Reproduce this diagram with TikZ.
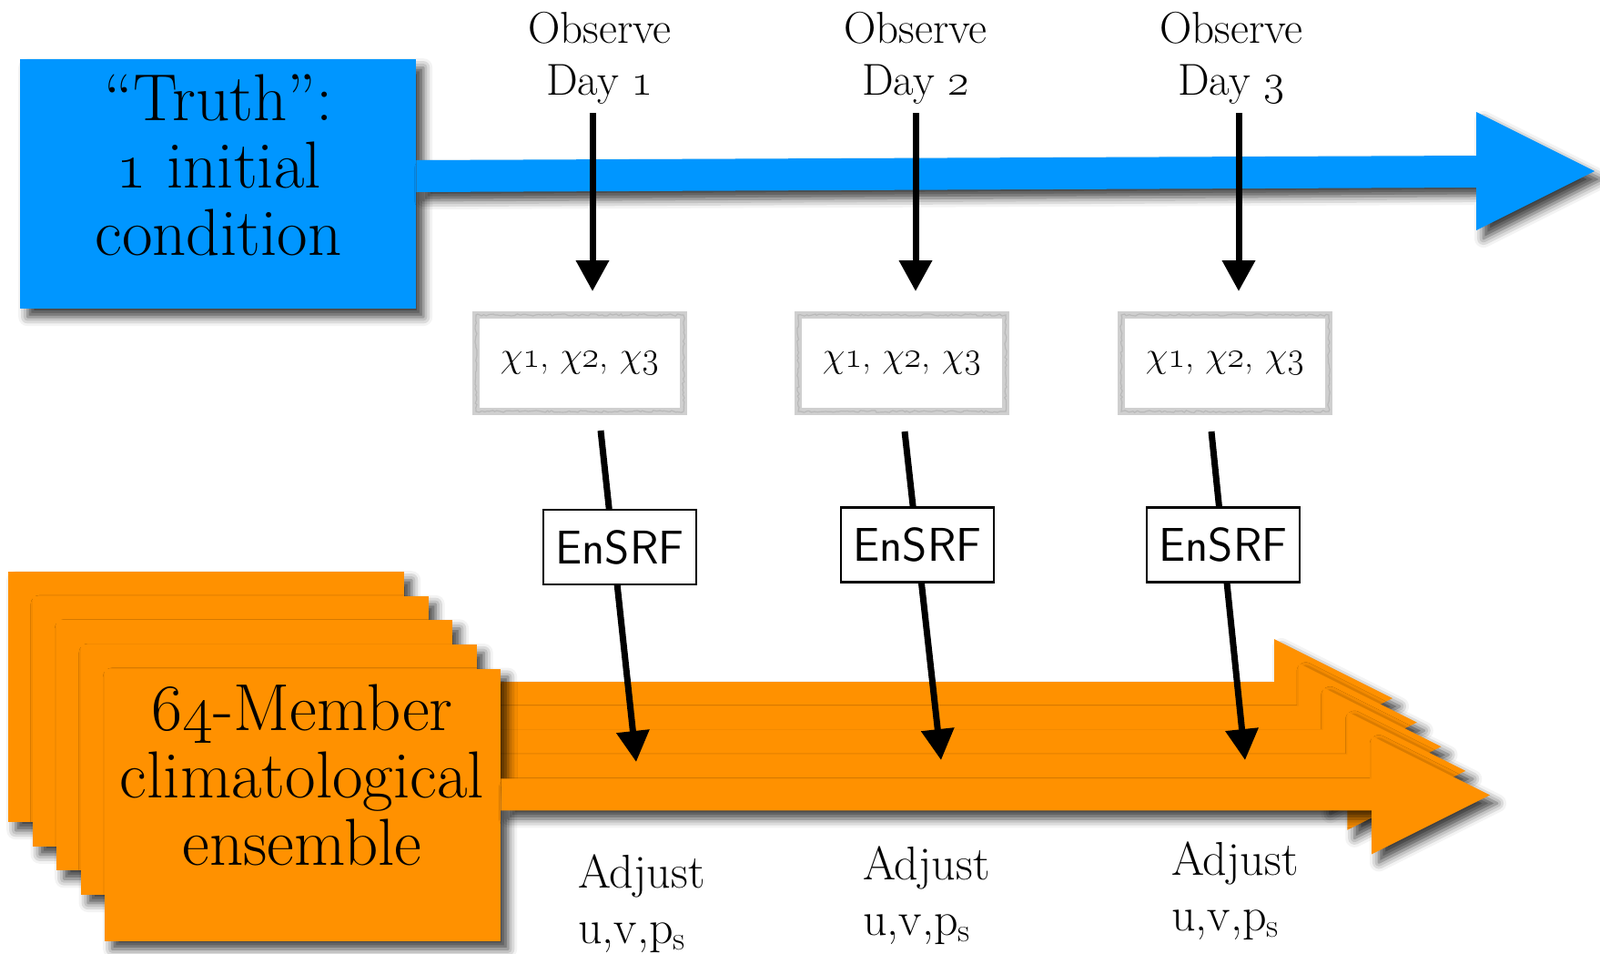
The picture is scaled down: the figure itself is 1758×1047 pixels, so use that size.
\RequirePackage{fix-cm}
\documentclass[tikz,border=0pt]{standalone}
\usetikzlibrary{shadows.blur,arrows.meta,decorations.pathmorphing}
\definecolor{truthblue}{RGB}{0,150,255}
\definecolor{ensorange}{RGB}{255,145,0}
\newcommand\osn[1]{\oldstylenums{#1}}
\newcommand\bigfont{\fontsize{73}{74}\selectfont}
\tikzset{
  shad/.style={blur shadow={shadow xshift=8pt,shadow yshift=-9pt,shadow blur radius=10pt,shadow opacity=75}},
  cardbox/.style={fill=ensorange,shad,inner sep=0pt,anchor=north west},
  truthbox/.style={fill=truthblue,shad,inner sep=0pt,anchor=north west,minimum width=435pt,minimum height=274pt},
  bigtext/.style={align=center,anchor=base,font=\bigfont,inner sep=0pt},
  obslabel/.style={align=center,anchor=base,font=\fontsize{49}{57}\selectfont,inner sep=0pt},
  adjlabel/.style={align=left,anchor=base west,font=\fontsize{52}{61}\selectfont,inner sep=0pt},
  obsarrow/.style={draw=black,-{Triangle[length=34pt,width=35pt,fill=black]},line width=7pt},
  chibox/.style={draw=gray!38,line width=8pt,minimum width=228pt,minimum height=106pt,inner sep=0pt,
     font=\fontsize{40}{44}\selectfont,
     postaction={draw=gray!55,line width=1.2pt,decorate,decoration={random steps,segment length=3pt,amplitude=1.2pt}}},
  ensrfbox/.style={draw,line width=2.5pt,fill=white,minimum width=168pt,minimum height=82pt,inner sep=0pt,
     font=\sffamily\fontsize{52}{54}\selectfont},
}
\begin{document}
\begin{tikzpicture}[x=1pt,y=-1pt]
\useasboundingbox (0,0) rectangle (1758,1047);

% Truth box and timeline arrow
\node[truthbox] (truth) at (22,65) {};
\fill[truthblue,shad] (truth.east |- 0,176) -- (1622,171) -- (1622,123) -- (1752,188) -- (1622,253) -- (1622,206) -- (truth.east |- 0,211) -- cycle;
\node[bigtext] (truthtxt) at (240,280) {“Truth”:\\\osn{1} initial\\condition};

% Ensemble stack
\foreach \k in {0,...,4}{
  \pgfmathsetmacro\dx{26.5*\k}
  \pgfmathsetmacro\dy{26.6*\k}
  \pgfmathsetmacro\ax{26.75*\k}
  \pgfmathsetmacro\hh{ifthenelse(\k==4,299,275)}
  \node[cardbox,minimum width=435pt,minimum height=\hh pt] (card\k) at (9+\dx,628+\dy) {};
  \fill[ensorange,shad] (card\k.east |- 0,749+\dy) -- (1400+\ax,749+\dy) -- (1400+\ax,702+\dy) -- (1530+\ax,767+\dy)
     -- (1400+\ax,832+\dy) -- (1400+\ax,784+\dy) -- (card\k.east |- 0,784+\dy) -- cycle;
}
\node[bigtext] (enstxt) at (332,950) {\osn{64}-Member\\climatological\\ensemble};

% Observe labels and arrows
\node[obslabel] (obs1) at (659,104) {Observe\\Day \osn{1}};
\node[obslabel] (obs2) at (1006,104) {Observe\\Day \osn{2}};
\node[obslabel] (obs3) at (1353,104) {Observe\\Day \osn{3}};
\coordinate (o1s) at (651,124); \coordinate (o1e) at (651,320);
\coordinate (o2s) at (1006,124); \coordinate (o2e) at (1006,320);
\coordinate (o3s) at (1361,124); \coordinate (o3e) at (1361,320);
\draw[obsarrow] (o1s) -- (o1e);
\draw[obsarrow] (o2s) -- (o2e);
\draw[obsarrow] (o3s) -- (o3e);

% Observation boxes
\node[chibox] (chi1) at (637,399) {$\chi$\osn{1}, $\chi$\osn{2}, $\chi$\osn{3}};
\node[chibox] (chi2) at (991,399) {$\chi$\osn{1}, $\chi$\osn{2}, $\chi$\osn{3}};
\node[chibox] (chi3) at (1346,399) {$\chi$\osn{1}, $\chi$\osn{2}, $\chi$\osn{3}};

% Assimilation arrows
\coordinate (a1s) at (660,473); \coordinate (a1e) at (699,837);
\coordinate (a2s) at (994,474); \coordinate (a2e) at (1034,835);
\coordinate (a3s) at (1331,474); \coordinate (a3e) at (1368,835);
\draw[obsarrow] (a1s) -- (a1e);
\draw[obsarrow] (a2s) -- (a2e);
\draw[obsarrow] (a3s) -- (a3e);

% EnSRF boxes
\node[ensrfbox] (en1) at (681,601) {EnSRF};
\node[ensrfbox] (en2) at (1008,598.5) {EnSRF};
\node[ensrfbox] (en3) at (1344,598.5) {EnSRF};

% Adjust labels
\node[adjlabel] (adj1) at (635,1036) {Adjust\\u,v,p\textsubscript{s}};
\node[adjlabel] (adj2) at (948,1027) {Adjust\\u,v,p\textsubscript{s}};
\node[adjlabel] (adj3) at (1287,1022) {Adjust\\u,v,p\textsubscript{s}};
\end{tikzpicture}
\end{document}
